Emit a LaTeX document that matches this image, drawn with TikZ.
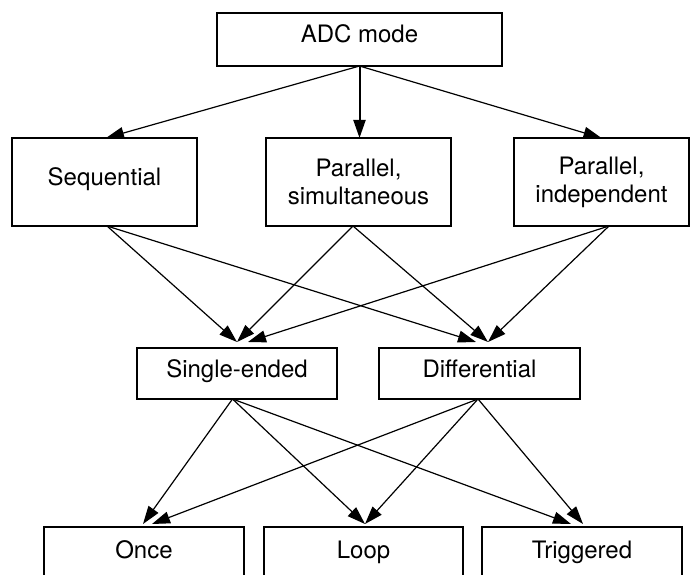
\documentclass[tikz,border=0pt]{standalone}
\usepackage{fontspec}
\setmainfont{TeX Gyre Heros}
\usetikzlibrary{arrows.meta}
\begin{document}
\begin{tikzpicture}[x=1pt,y=-1pt,
  box/.style={draw,line width=2.6pt,rectangle,inner sep=0pt,outer sep=0pt,
              font=\fontsize{24}{28}\selectfont},
  oneline/.style={text height=16pt,text depth=9pt},
  twoline/.style={align=center},
  conn/.style={line width=1.2pt,-{Triangle[length=18pt,width=12pt]}},
  mainconn/.style={line width=2pt,-{Triangle[length=18pt,width=12pt]}}]
\useasboundingbox (0,0) rectangle (691,575);
\clip (0,0) rectangle (691,575);

% row 0
\node[box,oneline,minimum width=285pt,minimum height=53pt] (adc) at (359.5,39.5) {ADC mode};
% row 1
\node[box,oneline,minimum width=185pt,minimum height=88pt] (seq) at (104.5,182) {Sequential};
\node[box,twoline,minimum width=185pt,minimum height=88pt] (ps) at (358.5,182) {Parallel,\\simultaneous};
\node[box,twoline,minimum width=175pt,minimum height=88pt] (pi) at (601.5,182) {Parallel,\\independent};
% row 2
\node[box,oneline,minimum width=200pt,minimum height=51pt] (se) at (237,373.5) {Single-ended};
\node[box,oneline,minimum width=201pt,minimum height=51pt] (diff) at (479.5,373.5) {Differential};
% row 3
\node[box,oneline,minimum width=200pt,minimum height=55pt] (once) at (144,554.5) {Once};
\node[box,oneline,minimum width=199pt,minimum height=55pt] (loop) at (363.5,554.5) {Loop};
\node[box,oneline,minimum width=200pt,minimum height=55pt] (trig) at (582,554.5) {Triggered};

% row 0 -> row 1
\draw[conn] (adc.south) -- ([xshift=1.5pt]seq.north);
\draw[mainconn] (adc.south) -- (adc.south |- ps.north);
\draw[conn] (adc.south) -- (pi.north);

% row 1 -> row 2
\draw[conn] ([xshift=2.5pt]seq.south) -- ([yshift=6pt]se.north);
\draw[conn] ([xshift=2.5pt]seq.south) -- ([xshift=-3.5pt,yshift=6pt]diff.north);
\draw[conn] ([xshift=-5.5pt]ps.south) -- ([yshift=6pt]se.north);
\draw[conn] ([xshift=-5.5pt]ps.south) -- ([xshift=8.5pt,yshift=6pt]diff.north);
\draw[conn] ([xshift=7.5pt]pi.south) -- ([xshift=11pt,yshift=6pt]se.north);
\draw[conn] ([xshift=7.5pt]pi.south) -- ([xshift=8.5pt,yshift=6pt]diff.north);

% row 2 -> row 3
\draw[conn] ([xshift=-4.5pt]se.south) -- ([xshift=-1pt,yshift=3pt]once.north);
\draw[conn] ([xshift=-4.5pt]se.south) -- ([xshift=1.5pt,yshift=3pt]loop.north);
\draw[conn] ([xshift=-4.5pt]se.south) -- ([xshift=-11pt,yshift=3pt]trig.north);
\draw[conn] ([xshift=-1.5pt]diff.south) -- ([xshift=8pt,yshift=3pt]once.north);
\draw[conn] ([xshift=-1.5pt]diff.south) -- ([xshift=1.5pt,yshift=3pt]loop.north);
\draw[conn] ([xshift=-1.5pt]diff.south) -- ([xshift=1pt,yshift=3pt]trig.north);
\end{tikzpicture}
\end{document}
